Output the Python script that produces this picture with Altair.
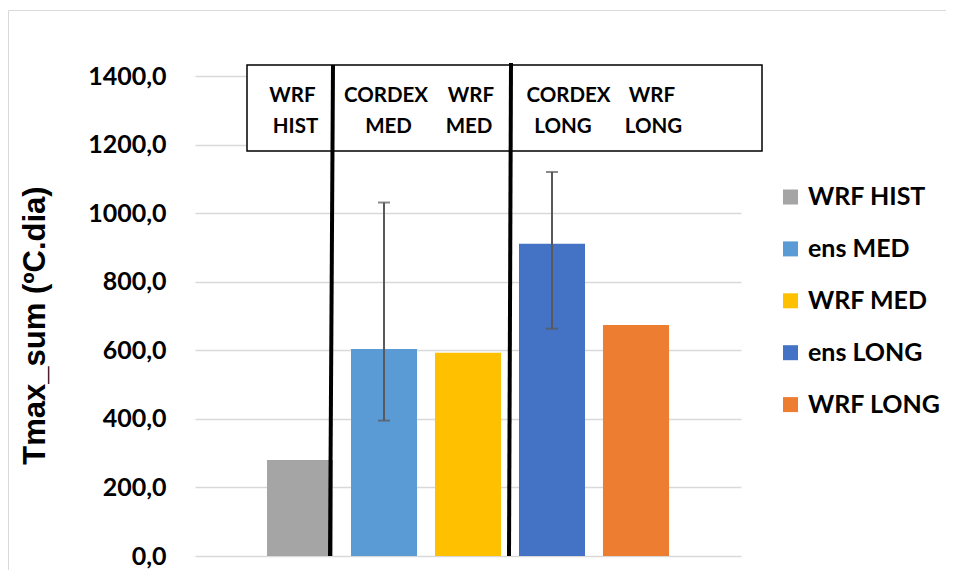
import altair as alt
import pandas as pd

# ---------------- data ----------------
series = ["WRF HIST", "ens MED", "WRF MED", "ens LONG", "WRF LONG"]
values = [280, 604, 593, 911, 674]
err_series = ["ens MED", "ens LONG"]
err_low = [395, 663]
err_high = [1031, 1120]
colors = ["#A5A5A5", "#5B9BD5", "#FFC000", "#4472C4", "#ED7D31"]
y_ticks = [0, 200, 400, 600, 800, 1000, 1200, 1400]
y_title = "Tmax_sum (ºC.dia)"
box_row1 = ["WRF", "CORDEX", "WRF", "CORDEX", "WRF"]
box_row2 = ["HIST", "MED", "MED", "LONG", "LONG"]

df = pd.DataFrame({"series": series, "value": values})
df_err = pd.DataFrame({"series": err_series, "low": err_low, "high": err_high})
anchor = pd.DataFrame({"a": [0]})

# ---------------- layout / style ----------------
W, H = 546, 480
PAD = {"left": 187, "top": 68, "right": 205, "bottom": 14}
FONT = "Lato"
row1_x = [97.5, 191, 276, 373.5, 457]
row2_x = [100.5, 193.5, 274, 368, 458.5]
row1_y, row2_y = 26, 57

xenc = alt.X("series:N", sort=series,
             scale=alt.Scale(paddingInner=0.214, paddingOuter=0.857),
             axis=None)
yscale = alt.Scale(domain=[0, 1400], nice=False)
yaxis = alt.Axis(values=y_ticks,
                 labelExpr="replace(format(datum.value, '.1f'), '.', ',')",
                 title=y_title, ticks=False, domain=False,
                 labelPadding=29, labelFont=FONT, labelFontSize=25,
                 labelFontWeight="bold", labelColor="#000000",
                 titleFont="Liberation Sans", titleFontSize=31,
                 titleFontWeight="bold", titleColor="#000000",
                 titleAngle=-90, titleX=-151, titleY=249,
                 titleAlign="center", titleBaseline="alphabetic",
                 gridColor="#D9D9D9", gridWidth=1.5)

bars = alt.Chart(df).mark_bar().encode(
    x=xenc,
    y=alt.Y("value:Q", scale=yscale, axis=yaxis),
    color=alt.Color("series:N", sort=series,
                    scale=alt.Scale(domain=series, range=colors),
                    legend=alt.Legend(title=None, orient="none",
                                      legendX=583, legendY=108.5,
                                      symbolType="square", symbolSize=225,
                                      symbolStrokeWidth=0, labelFont=FONT,
                                      labelFontSize=25, labelFontWeight="bold",
                                      labelColor="#000000", labelOffset=5,
                                      rowPadding=25.9, padding=0,
                                      labelLimit=300)),
)

err_rule = alt.Chart(df_err).mark_rule(color="#595959", strokeWidth=2).encode(
    x=xenc,
    y=alt.Y("low:Q", scale=yscale, axis=yaxis),
    y2="high:Q",
)
cap_low = alt.Chart(df_err).mark_tick(color="#595959", thickness=2, size=12).encode(
    x=xenc, y=alt.Y("low:Q", scale=yscale, axis=yaxis))
cap_high = alt.Chart(df_err).mark_tick(color="#595959", thickness=2, size=12).encode(
    x=xenc, y=alt.Y("high:Q", scale=yscale, axis=yaxis))

box = alt.Chart(anchor).mark_rect(fill="white", stroke="#000000", strokeWidth=1.5).encode(
    x=alt.value(52), x2=alt.value(567), y=alt.value(-11), y2=alt.value(75))

def word(txt, px, py):
    return alt.Chart(anchor).mark_text(
        text=txt, font=FONT, fontSize=20.5, fontWeight="bold", color="#000000",
        align="center", baseline="alphabetic").encode(x=alt.value(px), y=alt.value(py))

texts = [word(t, px, row1_y) for t, px in zip(box_row1, row1_x)] + \
        [word(t, px, row2_y) for t, px in zip(box_row2, row2_x)]

line1 = alt.Chart(anchor).mark_rule(color="#000000", strokeWidth=4).encode(
    x=alt.value(138), x2=alt.value(135), y=alt.value(-11), y2=alt.value(480))
line2 = alt.Chart(anchor).mark_rule(color="#000000", strokeWidth=4).encode(
    x=alt.value(316), x2=alt.value(314), y=alt.value(-13), y2=alt.value(480))

# faint outer chart frame (left and top edges only are inside the picture)
frame_top = alt.Chart(anchor).mark_rule(color="#D9D9D9", strokeWidth=1).encode(
    x=alt.value(-186.5), x2=alt.value(W + PAD["right"]), y=alt.value(-65.5), y2=alt.value(-65.5))
frame_left = alt.Chart(anchor).mark_rule(color="#D9D9D9", strokeWidth=1).encode(
    x=alt.value(-186.5), x2=alt.value(-186.5), y=alt.value(-65.5), y2=alt.value(H + PAD["bottom"]))

chart = alt.layer(bars, err_rule, cap_low, cap_high, box, *texts, line1, line2,
                  frame_top, frame_left).properties(
    width=W, height=H,
    autosize=alt.AutoSizeParams(type="none"),
    padding=PAD,
).configure_view(stroke=None)

chart.save("out.html", embed_options={"renderer": "svg", "actions": False})
